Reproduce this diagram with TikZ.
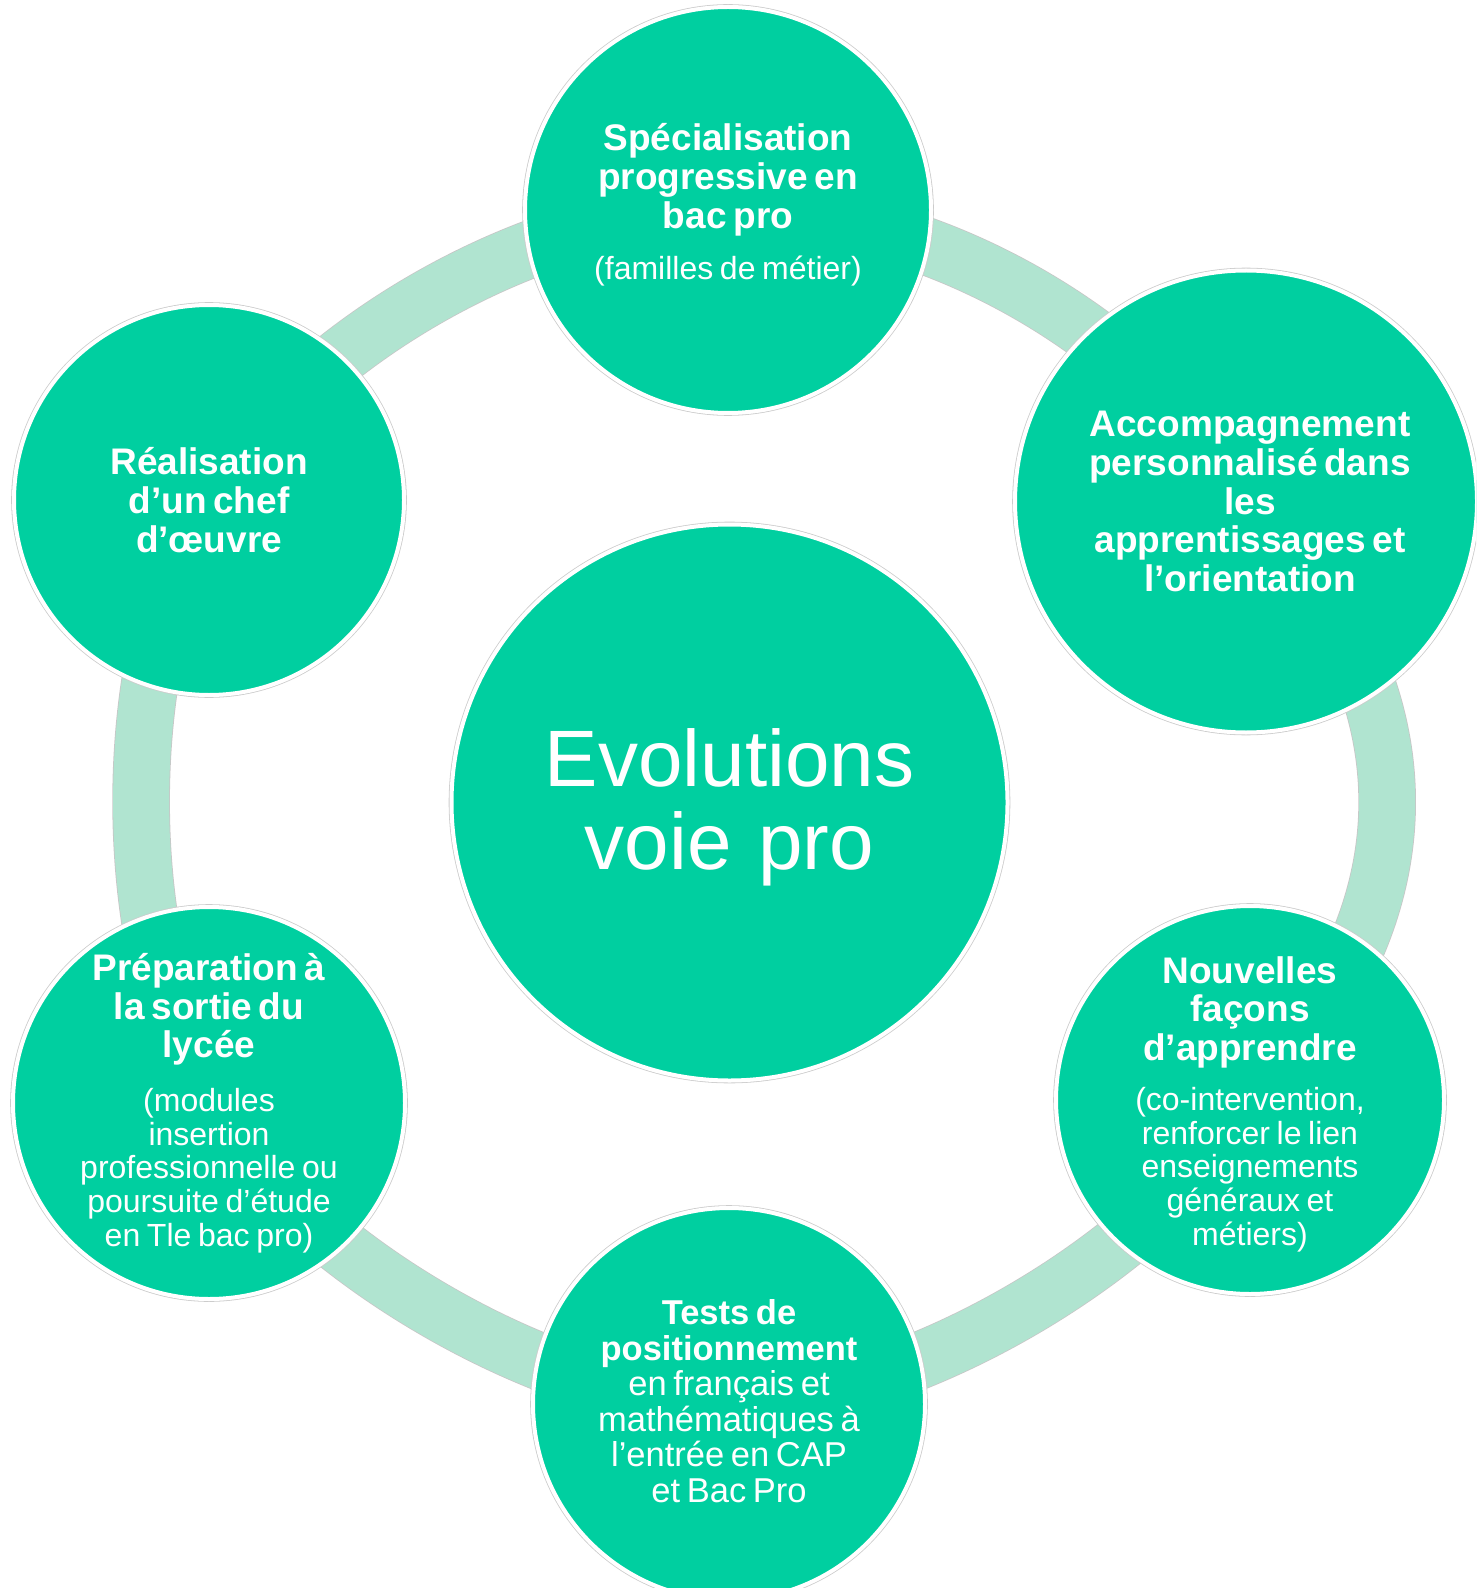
\documentclass[tikz,border=0pt]{standalone}
\usepackage{fontspec}
\setmainfont{Liberation Sans}
\usetikzlibrary{backgrounds}
\definecolor{mint}{HTML}{00CFA0}
\definecolor{ringmint}{HTML}{B0E4D0}
\newcommand\headfont{\fontsize{18.5}{19.4}\selectfont\bfseries}
\newcommand\notefont{\fontsize{16}{16.85}\selectfont\mdseries}
\tikzset{
  bubble/.style={circle, fill=mint, draw=white, line width=2pt, inner sep=0pt,
    minimum size=#1, preaction={draw=black!20, line width=2.8pt}},
  bubbletext/.style={text=white, align=center, text width=240pt, inner sep=0pt,
    execute at begin node={\parindent=0pt}},
  ringarc/.style={draw=ringmint, line width=28pt, preaction={draw=black!22, line width=28.8pt}},
}
\begin{document}
\begin{tikzpicture}[x=0.5pt, y=0.5pt]
    \useasboundingbox (0,0) rectangle (1476,-1588);
    \clip (0,0) rectangle (1476,-1588);
    \node[bubble=278pt] (core) at (729.5,-802.5) {};
    \node[bubble=203pt] (top) at (728,-210) {};
    \node[bubble=231pt] (rtop) at (1246,-501.5) {};
    \node[bubble=194pt] (rbot) at (1250,-1100) {};
    \node[bubble=196pt] (bot) at (729,-1404) {};
    \node[bubble=196pt] (lbot) at (209,-1103) {};
    \node[bubble=195pt] (ltop) at (209,-500) {};
    \begin{scope}[on background layer]
        \draw[ringarc] (top.center) to[bend left=30, looseness=0.85] (rtop.center);
        \draw[ringarc] (rtop.center) to[bend left=45, looseness=1.12] (rbot.center);
        \draw[ringarc] (rbot.center) to[bend left=30, looseness=0.75] (bot.center);
        \draw[ringarc] (bot.center) to[bend left=30, looseness=0.75] (lbot.center);
        \draw[ringarc] (lbot.center) to[bend left=30, looseness=0.77] (ltop.center);
        \draw[ringarc] (ltop.center) to[bend left=30, looseness=0.8] (top.center);
    \end{scope}
    \node[bubbletext, font=\fontsize{40}{41.5}\selectfont] (core-t) at ([yshift=-2.5pt]core) {Evolutions\\voie pro\par};
    \node[bubbletext] (top-t) at ([yshift=2.5pt]top) {\headfont Spécialisation\\progressive en\\bac pro\par
        \vspace{9pt}\notefont (familles de métier)\par};
    \node[bubbletext] (rtop-t) at ([xshift=2pt]rtop) {\headfont Accompagnement\\personnalisé dans\\les\\apprentissages et\\l’orientation\par};
    \node[bubbletext] (rbot-t) at ([yshift=-2pt]rbot) {\headfont Nouvelles\\façons\\d’apprendre\par
        \vspace{8pt}\notefont (co-intervention,\\renforcer le lien\\enseignements\\généraux et\\métiers)\par};
    \node[bubbletext] (bot-t) at ([yshift=1.5pt]bot) {\fontsize{17.25}{17.75}\selectfont\bfseries Tests de\\positionnement\\
        \mdseries en français et\\mathématiques à\\l’entrée en CAP\\et Bac Pro\par};
    \node[bubbletext] (lbot-t) at (lbot) {\headfont Préparation à\\la sortie du\\lycée\par
        \vspace{10pt}\notefont (modules\\insertion\\professionnelle ou\\poursuite d’étude\\en Tle bac pro)\par};
    \node[bubbletext] (ltop-t) at (ltop) {\headfont Réalisation\\d’un chef\\d’œuvre\par};
\end{tikzpicture}
\end{document}
